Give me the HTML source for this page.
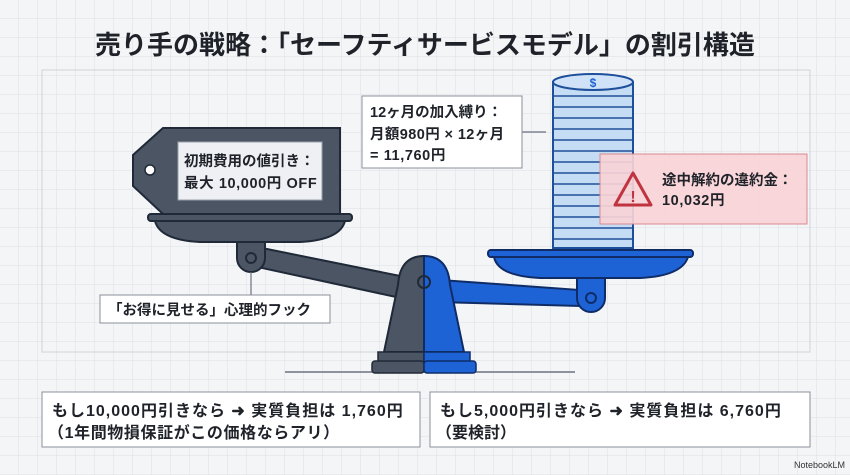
<!DOCTYPE html>
<html><head><meta charset="utf-8"><style>
body{margin:0;width:850px;height:475px;overflow:hidden;background:#f3f4f6;}
svg{display:block}
text{font-family:"Liberation Sans","Noto Sans CJK JP",sans-serif;font-weight:bold;fill:#1f2329}
</style></head><body>
<svg width="850" height="475" viewBox="0 0 850 475" xmlns="http://www.w3.org/2000/svg">
<defs>
<pattern id="g" width="19" height="19" patternUnits="userSpaceOnUse">
<path d="M19 0V19H0" fill="none" stroke="#dde0e5" stroke-width="1"/>
</pattern>
</defs>
<rect width="850" height="475" fill="#f4f5f7"/>
<rect width="850" height="475" fill="url(#g)"/>
<rect x="42" y="70" width="768" height="282" fill="none" stroke="#d0d3d8" stroke-width="1"/>
<text x="425" y="54" font-size="26" text-anchor="middle">売り手の戦略：「セーフティサービスモデル」の割引構造</text>

<line x1="285" y1="372" x2="575" y2="372" stroke="#6b7280" stroke-width="1.5"/>

<polygon points="262,248 410,278 410,300 262,268" fill="#4b5563" stroke="#1f2937" stroke-width="2"/>
<polygon points="440,280 580,290 580,306 440,302" fill="#1e63d6" stroke="#0f2c66" stroke-width="2"/>

<path d="M424 256 Q400 256 398 285 L384 352 L424 352 Z" fill="#4b5563" stroke="#1f2937" stroke-width="2"/>
<path d="M424 256 Q448 256 450 285 L464 352 L424 352 Z" fill="#1e63d6" stroke="#0f2c66" stroke-width="2"/>
<rect x="378" y="352" width="46" height="10" fill="#4b5563" stroke="#1f2937" stroke-width="1.5"/>
<rect x="424" y="352" width="46" height="10" fill="#1e63d6" stroke="#0f2c66" stroke-width="1.5"/>
<rect x="372" y="361" width="52" height="12" rx="3" fill="#4b5563" stroke="#1f2937" stroke-width="1.5"/>
<rect x="424" y="361" width="52" height="12" rx="3" fill="#1e63d6" stroke="#0f2c66" stroke-width="1.5"/>
<circle cx="424" cy="282" r="6" fill="none" stroke="#1f2937" stroke-width="2"/>

<path d="M237 240 H265 V258 A14 14 0 0 1 237 258 Z" fill="#4b5563" stroke="#1f2937" stroke-width="2"/>
<circle cx="251" cy="258" r="5" fill="none" stroke="#1f2937" stroke-width="2"/>
<path d="M155 221 H345 Q340 240 300 242 H200 Q160 240 155 221 Z" fill="#4b5563" stroke="#1f2937" stroke-width="2"/>
<rect x="148" y="214" width="204" height="7" rx="3" fill="#4b5563" stroke="#1f2937" stroke-width="2"/>

<polygon points="163,128 340,128 340,214 163,214 133,186 133,155" fill="#4b5563" stroke="#1f2937" stroke-width="2"/>
<circle cx="150" cy="170" r="5" fill="#fff" stroke="#1f2937" stroke-width="1.5"/>
<rect x="178" y="142" width="144" height="58" fill="#eef0f3" stroke="#9aa1ab"/>
<text x="184" y="166" font-size="14.5">初期費用の値引き：</text>
<text x="184" y="188" font-size="14.5" letter-spacing="0.6">最大 10,000円 OFF</text>

<path d="M577 275 H605 V298 A14 14 0 0 1 577 298 Z" fill="#1e63d6" stroke="#0f2c66" stroke-width="2"/>
<circle cx="591" cy="298" r="5" fill="none" stroke="#0f2c66" stroke-width="2"/>
<path d="M494 257 H688 Q682 276 640 278 H540 Q498 276 494 257 Z" fill="#1e63d6" stroke="#0f2c66" stroke-width="2"/>
<rect x="488" y="250" width="205" height="7" rx="3" fill="#1e63d6" stroke="#0f2c66" stroke-width="2"/>

<rect x="553" y="82" width="80" height="166" fill="#c5dcf5" stroke="#1e4f9a" stroke-width="2"/>
<g stroke="#1e4f9a" stroke-width="1.5" fill="none">
<path d="M553 96H633M553 107H633M553 118H633M553 129H633M553 140H633M553 151H633M553 162H633M553 173H633M553 184H633M553 195H633M553 206H633M553 217H633M553 228H633M553 239H633"/>
</g>
<ellipse cx="593" cy="82" rx="40" ry="8" fill="#cfe2f8" stroke="#1e4f9a" stroke-width="2"/>
<text x="593" y="87" font-size="12" text-anchor="middle" style="fill:#1e63d6">$</text>

<line x1="522" y1="132" x2="546" y2="132" stroke="#6b7280" stroke-width="1.2"/>
<rect x="362" y="96" width="160" height="72" fill="#fff" stroke="#8a9099"/>
<text x="370" y="117" font-size="14.5">12ヶ月の加入縛り：</text>
<text x="370" y="139" font-size="14.5" letter-spacing="0.4">月額980円 × 12ヶ月</text>
<text x="370" y="160" font-size="14.5" letter-spacing="0.6">= 11,760円</text>

<rect x="600" y="154" width="207" height="70" fill="#f7d3d6" fill-opacity="0.92" stroke="#d98a90"/>
<polygon points="633,173 651,205 615,205" fill="none" stroke="#c0343f" stroke-width="3" stroke-linejoin="round"/>
<text x="633" y="202" font-size="16" text-anchor="middle" style="fill:#c0343f">!</text>
<text x="662" y="185" font-size="14.5">途中解約の違約金：</text>
<text x="662" y="205" font-size="14.5" letter-spacing="0.6">10,032円</text>

<line x1="251" y1="272" x2="251" y2="295" stroke="#6b7280" stroke-width="1.2"/>
<rect x="100" y="295" width="230" height="28" fill="#fff" stroke="#8a9099"/>
<text x="108" y="315" font-size="14.5">「お得に見せる」心理的フック</text>

<rect x="42" y="392" width="378" height="55" fill="#fff" stroke="#8a9099"/>
<text x="52" y="416" font-size="16" letter-spacing="1">もし10,000円引きなら ➜ 実質負担は 1,760円</text>
<text x="48" y="438" font-size="16" letter-spacing="0.6">（1年間物損保証がこの価格ならアリ）</text>
<rect x="430" y="392" width="380" height="55" fill="#fff" stroke="#8a9099"/>
<text x="440" y="416" font-size="16" letter-spacing="1">もし5,000円引きなら ➜ 実質負担は 6,760円</text>
<text x="436" y="438" font-size="16">（要検討）</text>

<text x="845" y="468" font-size="9" text-anchor="end" style="font-weight:normal;fill:#333">NotebookLM</text>
</svg>
</body></html>
